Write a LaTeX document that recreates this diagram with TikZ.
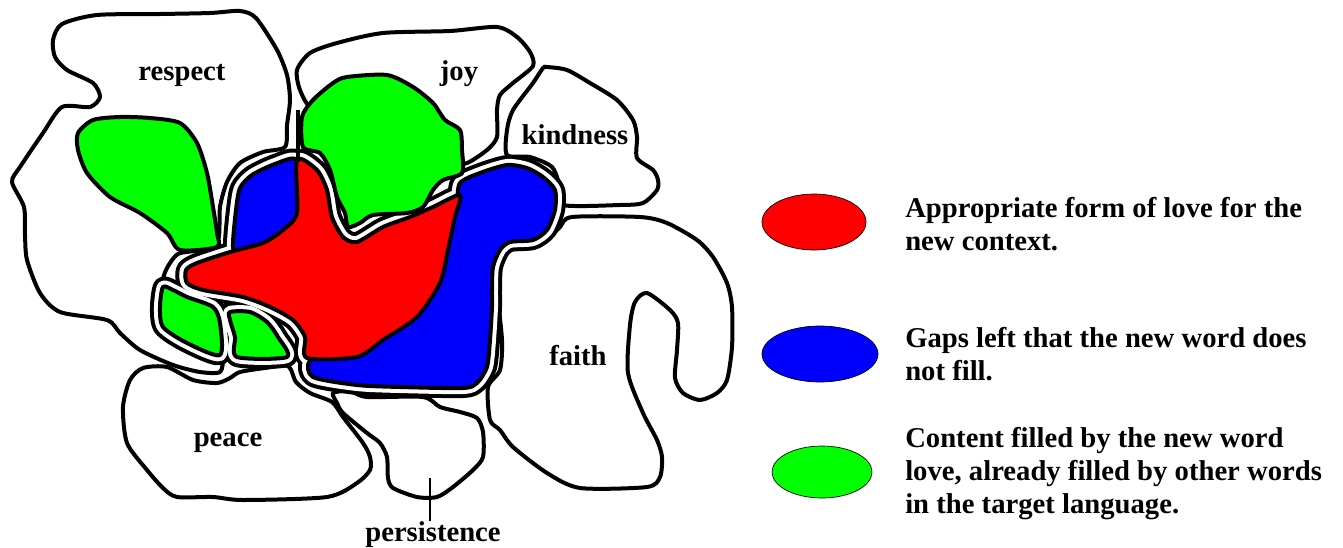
\documentclass[tikz,border=0pt]{standalone}
\usepackage{fontspec}
\setmainfont{Liberation Serif}
\definecolor{loveRed}{RGB}{255,0,0}
\definecolor{loveBlue}{RGB}{0,0,255}
\definecolor{loveGreen}{RGB}{0,255,0}

% outlines of the coloured patches, used twice (halo and fill)
\def\loveRedPath{plot[smooth cycle, tension=.45] coordinates {(297,160) (317,170)
  (327,190) (332,217) (343,237) (357,242) (383,227) (410,217) (433,207) (460,195)
  (455,217) (448,250) (440,283) (417,317) (383,340) (357,357) (307,358) (305,337)
  (293,320) (270,307) (243,297) (203,290) (187,283) (186,270) (197,263) (230,252)
  (263,243) (283,230) (297,213)}}
\def\loveBlueLeftPath{plot[smooth cycle, tension=.45] coordinates {(233,247) (236,210)
  (240,188) (252,175) (275,164) (297,160) (305,200) (300,235) (270,255) (240,256)}}
\def\loveBlueRightPath{plot[smooth cycle, tension=.45] coordinates {(460,183) (480,173)
  (507,165) (527,168) (543,177) (555,190) (555,210) (547,230) (533,240) (510,242)
  (500,250) (493,267) (492,290) (492,307) (490,340) (487,367) (477,383) (463,388)
  (400,387) (357,385) (313,377) (310,360) (340,340) (400,300) (430,240) (455,205)}}
\def\loveGreenLowPath{plot[smooth cycle, tension=.45] coordinates {(163,287) (173,290)
  (187,297) (213,307) (220,323) (220,355) (187,343) (163,327) (160,307)}}
\def\loveGreenMidPath{plot[smooth cycle, tension=.45] coordinates {(230,312) (250,312)
  (267,322) (278,337) (287,357) (237,357) (235,337) (230,320)}}

\begin{document}
\begin{tikzpicture}[x=.75pt,y=-.75pt,
    region/.style={draw=black, fill=white, line width=3pt, line join=round},
    patch/.style={draw=black, line width=3pt, line join=round},
    halo/.style={draw=black, line width=15pt, line join=round},
    gap/.style={draw=white, line width=9pt, line join=round},
    word/.style={font=\fontsize{21.5}{24}\selectfont\bfseries, anchor=base, inner sep=0pt},
    legend/.style={font=\fontsize{21.5}{24.75}\selectfont\bfseries, align=left,
      anchor=north west, inner sep=0pt},
    key/.style={draw=black, line width=.5pt}]
  \useasboundingbox (0,0) rectangle (1343,547);
  \fill[white] (0,0) rectangle (1343,547);

  % word regions
  \path[region] plot[smooth cycle, tension=.45] coordinates {(53,40) (62,24) (97,15)
    (160,14) (210,13) (240,11) (256,18) (277,50) (287,75) (290,100) (287,125) (285,147)
    (263,152) (240,163) (227,182) (220,207) (218,240) (200,250) (178,254) (166,270)
    (160,292) (160,320) (170,340) (195,350) (221,357) (220,372) (200,372) (173,365)
    (140,350) (120,333) (107,320) (60,312) (40,293) (27,260) (25,235) (24,207) (12,182)
    (20,167) (43,133) (62,107) (90,107) (100,97) (93,83) (67,70) (55,57)};
  \path[region] plot[smooth cycle, tension=.45] coordinates {(313,108) (300,90) (297,70)
    (310,53) (337,43) (383,33) (450,31) (497,27) (517,37) (530,52) (533,66) (513,83)
    (500,95) (497,110) (497,137) (487,150) (467,163) (455,160) (420,120) (350,95)};
  \path[region] plot[smooth cycle, tension=.45] coordinates {(547,67) (567,70) (590,83)
    (617,100) (633,120) (637,137) (637,158) (653,170) (658,180) (657,190) (643,203)
    (620,205) (563,205) (560,187) (552,167) (530,157) (507,155) (507,130) (513,110)
    (533,83) (543,68)};
  \path[region] plot[smooth cycle, tension=.45] coordinates {(560,227) (572,217)
    (640,217) (667,223) (697,240) (713,257) (727,283) (732,307) (732,347) (727,380)
    (717,393) (700,400) (683,393) (675,378) (677,350) (678,323) (670,310) (647,293)
    (635,302) (630,325) (628,373) (643,413) (657,440) (662,457) (660,477) (647,487)
    (580,488) (547,473) (513,447) (500,430) (490,420) (488,387) (500,370) (502,340)
    (497,290) (497,257) (503,250) (533,247) (547,240)};
  \path[region] plot[smooth cycle, tension=.45] coordinates {(143,368) (167,367)
    (193,380) (217,383) (230,378) (240,372) (265,368) (288,366) (296,382) (310,393)
    (332,402) (343,417) (363,443) (370,457) (370,470) (357,483) (327,497) (243,500)
    (213,497) (177,497) (163,488) (147,470) (127,443) (123,407) (130,380)};
  \path[region] plot[smooth cycle, tension=.45] coordinates {(333,393) (350,391)
    (367,397) (423,397) (440,407) (460,412) (477,418) (483,432) (483,457) (473,470)
    (453,487) (437,497) (417,497) (393,488) (388,478) (387,457) (380,443) (367,433)
    (343,413) (337,403)};

  \path[patch, fill=loveGreen] plot[smooth cycle, tension=.45] coordinates {(78,133)
    (93,120) (120,117) (150,118) (180,123) (197,143) (207,173) (213,207) (217,233)
    (217,247) (180,250) (167,233) (140,213) (110,197) (87,173) (78,150)};

  % the new word and its white margin
  \path[halo] \loveBlueRightPath;
  \path[halo] \loveBlueLeftPath;
  \path[halo] \loveRedPath;
  \path[halo] \loveGreenLowPath;
  \path[halo] \loveGreenMidPath;
  \path[gap] \loveBlueRightPath;
  \path[gap] \loveBlueLeftPath;
  \path[gap] \loveRedPath;
  \path[gap] \loveGreenLowPath;
  \path[gap] \loveGreenMidPath;

  \path[patch, fill=loveBlue] \loveBlueRightPath;
  \path[patch, fill=loveBlue] \loveBlueLeftPath;
  \path[patch, fill=loveGreen] plot[smooth cycle, tension=.45] coordinates {(302,117)
    (313,100) (333,83) (347,77) (387,75) (413,87) (433,103) (445,120) (460,130)
    (462,150) (462,173) (443,180) (433,190) (423,207) (407,213) (373,215) (360,223)
    (348,227) (345,213) (337,197) (330,170) (320,153) (303,147)};
  \path[patch, fill=loveRed] \loveRedPath;
  \path[patch, fill=loveGreen] \loveGreenLowPath;
  \path[patch, fill=loveGreen] \loveGreenMidPath;
  \draw[line width=3pt] (298,110) -- (298,162);

  % labels
  \node[word] (wordRespect) at (182,80) {respect};
  \node[word] (wordJoy) at (459,80) {joy};
  \node[word] (wordKindness) at (575,144) {kindness};
  \node[word] (wordFaith) at (578,365) {faith};
  \node[word] (wordPeace) at (228,446) {peace};
  \node[word] (wordPersistence) at (433,541) {persistence};
  \coordinate (tickTop) at (430,478);
  \draw[line width=1.5pt] (tickTop) -- (tickTop |- wordPersistence.north);

  % legend
  \draw[key, fill=loveRed] (814,222) ellipse [x radius=52, y radius=28];
  \draw[key, fill=loveBlue] (820,354) ellipse [x radius=58, y radius=28];
  \draw[key, fill=loveGreen] (822,472) ellipse [x radius=50, y radius=26];
  \node[legend] (legendRed) at (905,197) {Appropriate form of love for the\\new context.};
  \node[legend] (legendBlue) at (905,327) {Gaps left that the new word does\\not fill.};
  \node[legend] (legendGreen) at (905,427) {Content filled by the new word\\love, already filled by other words\\in the target language.};
\end{tikzpicture}
\end{document}
